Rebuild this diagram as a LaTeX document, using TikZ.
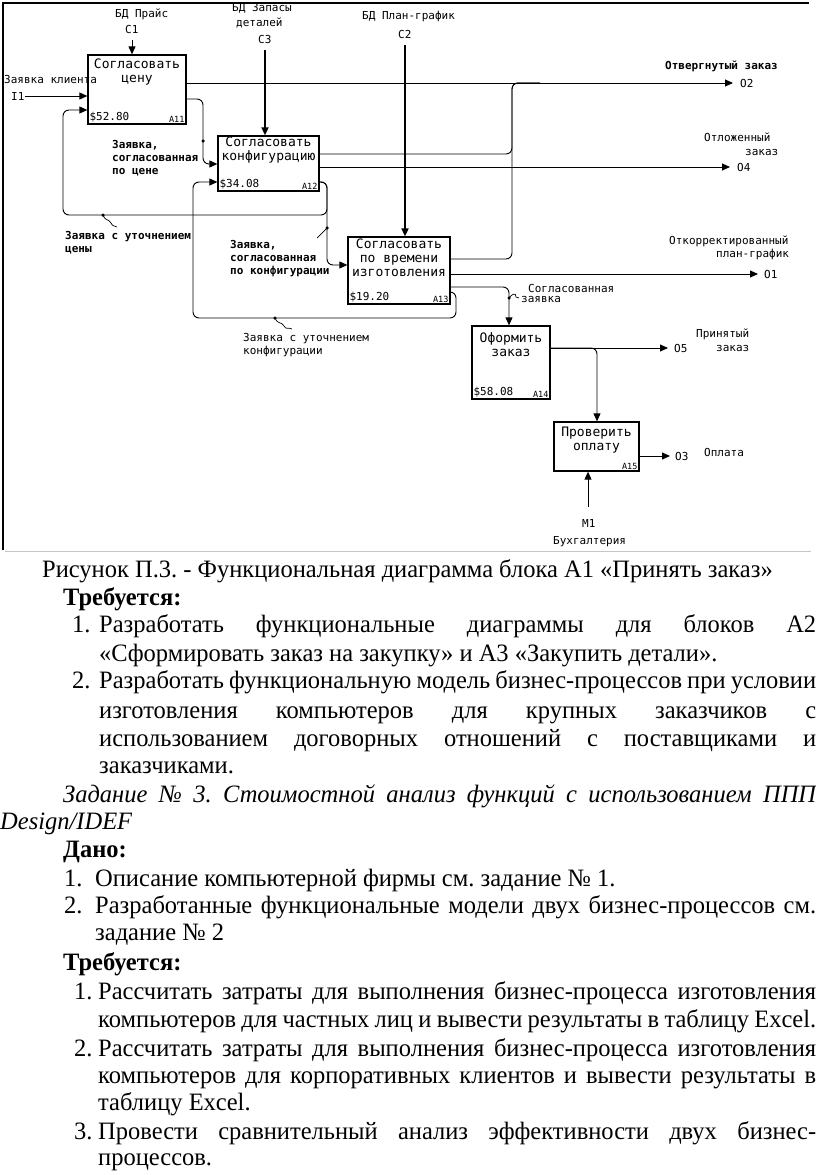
\documentclass[tikz,border=0pt]{standalone}
\usepackage{fontspec}
\setmainfont[FakeStretch=0.98]{Liberation Serif}
\newfontfamily\idef{DejaVu Sans Mono}
\usepackage{tikz}
\usetikzlibrary{arrows.meta, positioning}
\frenchspacing

\tikzset{
  box/.style={draw, line width=1.3pt, inner sep=0pt},
  ttl/.style={font=\fontsize{13}{14}\idef, align=center, inner sep=0pt},
  cost/.style={font=\fontsize{11}{12}\idef, anchor=south west, inner sep=2pt},
  num/.style={font=\fontsize{8.5}{10}\idef, anchor=south east, inner sep=2pt},
  lbl/.style={font=\fontsize{11}{13}\idef, anchor=west, inner sep=0pt, align=left},
  blbl/.style={lbl, font=\fontsize{11}{13}\idef\bfseries},
  feed/.style={line width=0.9pt, rounded corners=6pt},
  flow/.style={feed, -{Triangle[length=8pt,width=7pt]}},
  ctrl/.style={flow, line width=1.8pt},
  dot/.style={fill, circle, inner sep=0pt, minimum size=3.5pt},
  body/.style={anchor=base west, inner sep=0pt, font=\fontsize{25}{28}\selectfont},
}

\begin{document}
\begin{tikzpicture}[x=1pt,y=-1pt]
\useasboundingbox (0,0) rectangle (816,1175);

% frame of the diagram
\draw[line width=1.8pt] (3,550) -- (3,3) -- (809,3);
\draw[gray!45, line width=1pt] (5,551) -- (811,551);

% function blocks
\node[box, minimum width=98pt, minimum height=69pt] (a11) at (137,89.5) {};
\node[box, minimum width=101pt, minimum height=55pt] (a12) at (268.5,163.5) {};
\node[box, minimum width=102pt, minimum height=67pt] (a13) at (399,270.5) {};
\node[box, minimum width=78pt, minimum height=73pt] (a14) at (511,362.5) {};
\node[box, minimum width=85pt, minimum height=49pt] (a15) at (596.5,446.5) {};

\node[ttl] (a11t) at (137,72.5) {Согласовать\\цену};
\node[ttl] (a12t) at (268.5,150) {Согласовать\\конфигурацию};
\node[ttl] (a13t) at (399,258) {Согласовать\\по времени\\изготовления};
\node[ttl] (a14t) at (511,344.5) {Оформить\\заказ};
\node[ttl] (a15t) at (596.5,440.5) {Проверить\\оплату};

\node[cost] (a11c) at (a11.south west) {\$52.80};
\node[cost] (a12c) at (a12.south west) {\$34.08};
\node[cost] (a13c) at (a13.south west) {\$19.20};
\node[cost] (a14c) at (a14.south west) {\$58.08};
\node[num] (a11n) at (a11.south east) {A11};
\node[num] (a12n) at (a12.south east) {A12};
\node[num] (a13n) at (a13.south east) {A13};
\node[num] (a14n) at (a14.south east) {A14};
\node[num] (a15n) at (a15.south east) {A15};

% ends of the boundary arrows
\coordinate (c1) at (132,40);
\coordinate (c3) at (265,50);
\coordinate (c2) at (405,45);
\coordinate (i1) at (25,96);
\coordinate (o2) at (733,83);
\coordinate (o4) at (730,167);
\coordinate (o1) at (758,274);
\coordinate (o5) at (668,348);
\coordinate (o3) at (670,456);
\coordinate (m1) at (588,507);

\draw[flow] (c1) -- (c1 |- a11.north);
\draw[ctrl] (c3) -- (c3 |- a12.north);
\draw[ctrl] (c2) -- (c2 |- a13.north);
\draw[flow] (i1) -- (i1 -| a11.west);
\draw[flow] (a11.east |- o2) -- (o2);
\draw[feed] (a12.east |- 0,154) -- (512,154) -- (512,83) -- (540,83);
\draw[feed] (a13.east |- 0,259) -- (512,259) -- (512,83) -- (540,83);
\draw[flow] (a12.east |- o4) -- (o4);
\draw[flow] (a13.east |- o1) -- (o1);
\draw[flow] (a11.east |- 0,99) -- (203,99) -- (203,164) -- (a12.west |- 0,164);
\draw[flow] (a12.east |- 0,182) -- (327,182) -- (327,215) -- (63,215) -- (63,110) -- (a11.west |- 0,110);
\draw[flow] (a12.east |- 0,182) -- (327,182) -- (327,265) -- (a13.west |- 0,265);
\draw[flow] (a13.east |- 0,292) -- (456,292) -- (456,318) -- (193,318) -- (193,182) -- (a12.west |- 0,182);
\draw[flow] (a13.east |- 0,287) -- (509,287) -- (a14.north -| 509,0);
\draw[flow] (a14.east |- o5) -- (o5);
\draw[flow] (a14.east |- o5) -- (597,348) -- (a15.north -| 597,0);
\draw[flow] (a15.east |- o3) -- (o3);
\draw[flow] (m1) -- (m1 |- a15.south);

% tildes from the labels
\node[dot] (t1) at (203,141) {};
\node[dot] (t2) at (103,215) {};
\node[dot] (t3) at (327,228) {};
\node[dot] (t4) at (275,318) {};
\node[dot] (t5) at (509,298) {};
\draw[line width=0.7pt] (t2.center) .. controls (106,222) and (108,218) .. (111,223) .. controls (113,227) and (114,225) .. (117,227);
\draw[line width=0.7pt] (t3.center) -- (317,238);
\draw[line width=0.7pt] (t4.center) .. controls (278,325) and (281,321) .. (284,326) .. controls (286,330) and (288,327) .. (292,329);
\draw[line width=0.7pt] (t5.center) .. controls (512,294) and (516,292) .. (516,297) -- (519,298);

% labels
\node[lbl] (lc1a) at (115,14) {БД Прайс};
\node[lbl] (lc1b) at (125,29) {C1};
\node[lbl] (lc3a) at (232,8) {БД Запасы};
\node[lbl] (lc3b) at (236,23) {деталей};
\node[lbl] (lc3c) at (258,39) {C3};
\node[lbl] (lc2a) at (362,16) {БД План-график};
\node[lbl] (lc2b) at (398,34) {C2};
\node[lbl] (li1a) at (4,79) {Заявка клиента};
\node[lbl] (li1b) at (11,96) {I1};
\node[blbl] (l11) at (112,158) {Заявка,\\согласованная\\по цене};
\node[blbl] (l21) at (65,243) {Заявка с уточнением\\цены};
\node[blbl] (l23) at (230,259) {Заявка,\\согласованная\\по конфигурации};
\node[lbl] (l32) at (243,345) {Заявка с уточнением\\конфигурации};
\node[blbl] (lo2a) at (665,66) {Отвергнутый заказ};
\node[lbl] (lo2b) at (740,83) {O2};
\node[lbl] (lo4a) at (704,137) {Отложенный};
\node[lbl] (lo4b) at (745,152) {заказ};
\node[lbl] (lo4c) at (737,167) {O4};
\node[lbl] (lo1a) at (669,241) {Откорректированный};
\node[lbl] (lo1b) at (716,254) {план-график};
\node[lbl] (lo1c) at (764,274) {O1};
\node[lbl] (l34a) at (528,288) {Согласованная};
\node[lbl] (l34b) at (521,299) {заявка};
\node[lbl] (lo5a) at (696,334) {Принятый};
\node[lbl] (lo5b) at (716,348) {заказ};
\node[lbl] (lo5c) at (674,348) {O5};
\node[lbl] (lo3a) at (675,456) {O3};
\node[lbl] (lo3b) at (704,452) {Оплата};
\node[lbl] (lm1a) at (582,523) {M1};
\node[lbl] (lm1b) at (553,542) {Бухгалтерия};

% text under the diagram
\node[body] (cap) at (42,577) {Рисунок П.3. - Функциональная диаграмма блока А1 «Принять заказ»};
\node[body, font=\fontsize{25}{28}\bfseries] (req1) at (63,605) {Требуется:};
\node[body] (n11) at (72,632) {1.};
\node[body] (r11) at (99,632) {\makebox[717pt][s]{Разработать функциональные диаграммы для блоков А2}};
\node[body] (r12) at (99,661) {«Сформировать заказ на закупку» и А3 «Закупить детали».};
\node[body] (n12) at (72,688) {2.};
\node[body] (r13) at (99,688) {\makebox[717pt][s]{Разработать функциональную модель бизнес-процессов при условии}};
\node[body] (r14) at (99,718) {\makebox[717pt][s]{изготовления компьютеров для крупных заказчиков с}};
\node[body] (r15) at (99,746) {\makebox[717pt][s]{использованием договорных отношений с поставщиками и}};
\node[body] (r16) at (99,773) {заказчиками.};
\node[body, font=\fontsize{25}{28}\itshape] (task) at (63,802) {\makebox[753pt][s]{Задание № 3. Стоимостной анализ функций с использованием ППП}};
\node[body, font=\fontsize{25}{28}\itshape] (task2) at (0,829) {Design/IDEF};
\node[body, font=\fontsize{25}{28}\bfseries] (given) at (63,857) {Дано:};
\node[body] (n21) at (64,886) {1.};
\node[body] (g1) at (95,886) {Описание компьютерной фирмы см. задание № 1.};
\node[body] (n22) at (64,913) {2.};
\node[body] (g2) at (95,913) {\makebox[721pt][s]{Разработанные функциональные модели двух бизнес-процессов см.}};
\node[body] (g3) at (95,940) {задание № 2};
\node[body, font=\fontsize{25}{28}\bfseries] (req2) at (63,970) {Требуется:};
\node[body] (n31) at (74,999) {1.};
\node[body] (q1) at (98,999) {\makebox[718pt][s]{Рассчитать затраты для выполнения бизнес-процесса изготовления}};
\node[body] (q2) at (98,1027) {\makebox[718pt][s]{компьютеров для частных лиц и вывести результаты в таблицу Excel.}};
\node[body] (n32) at (74,1056) {2.};
\node[body] (q3) at (98,1056) {\makebox[718pt][s]{Рассчитать затраты для выполнения бизнес-процесса изготовления}};
\node[body] (q4) at (98,1083) {\makebox[718pt][s]{компьютеров для корпоративных клиентов и вывести результаты в}};
\node[body] (q5) at (98,1110) {таблицу Excel.};
\node[body] (n33) at (74,1139) {3.};
\node[body] (q6) at (98,1139) {\makebox[718pt][s]{Провести сравнительный анализ эффективности двух бизнес-}};
\node[body] (q7) at (98,1165) {процессов.};
\end{tikzpicture}
\end{document}
